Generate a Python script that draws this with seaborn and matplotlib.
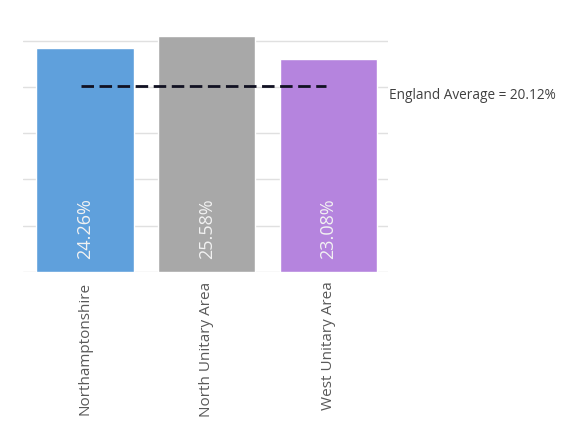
import pandas as pd
import matplotlib
matplotlib.use("Agg")
import matplotlib.pyplot as plt
import seaborn as sns

# Data
areas = ["Northamptonshire", "North Unitary Area", "West Unitary Area"]
rates = [24.26, 25.58, 23.08]
england_avg = 20.12
bar_colors = ["#5fa0dc", "#a8a8a8", "#b584de"]

sns.set_theme(style="white")
plt.rcParams["font.family"] = ["Open Sans", "DejaVu Sans"]

df = pd.DataFrame({"area": areas, "rate": rates})

fig = plt.figure(figsize=(5.88, 4.21), dpi=100)
ax = fig.add_axes([23 / 588, (421 - 271.7) / 421, 365 / 588, 249 / 421])

sns.barplot(data=df, x="area", y="rate", hue="area", palette=bar_colors,
            width=0.8, saturation=1, legend=False, ax=ax, zorder=2)

ax.set_ylim(0, 27)
ax.set_xlim(-0.51, 2.49)
ax.set_yticks([0, 5, 10, 15, 20, 25])
ax.set_yticklabels([])
ax.yaxis.grid(True, color="#e0e0e0", linewidth=1)
ax.set_axisbelow(True)
for s in ax.spines.values():
    s.set_visible(False)
ax.tick_params(axis="both", length=0)
ax.set_xlabel("")
ax.set_ylabel("")
ax.tick_params(axis="x", pad=7, labelsize=11, labelcolor="#595959")
for lbl in ax.get_xticklabels():
    lbl.set_rotation(90)
    lbl.set_va("top")

# value labels inside the bars
for i, v in enumerate(rates):
    ax.text(i, 1.4, f"{v:.2f}%", rotation=90, ha="center", va="bottom",
            color="#f2f2f2", fontsize=13, zorder=3)

# England average line and label
ax.hlines(england_avg, -0.03, 1.98, colors="#111122", linestyles=(0, (4.5, 2)),
          linewidth=2, zorder=4)
ax.text(2.5, 19.1, f"England Average = {england_avg:.2f}%", ha="left",
        va="center", fontsize=9.8, color="#404040", clip_on=False)

fig.savefig("out.png", dpi=100)
